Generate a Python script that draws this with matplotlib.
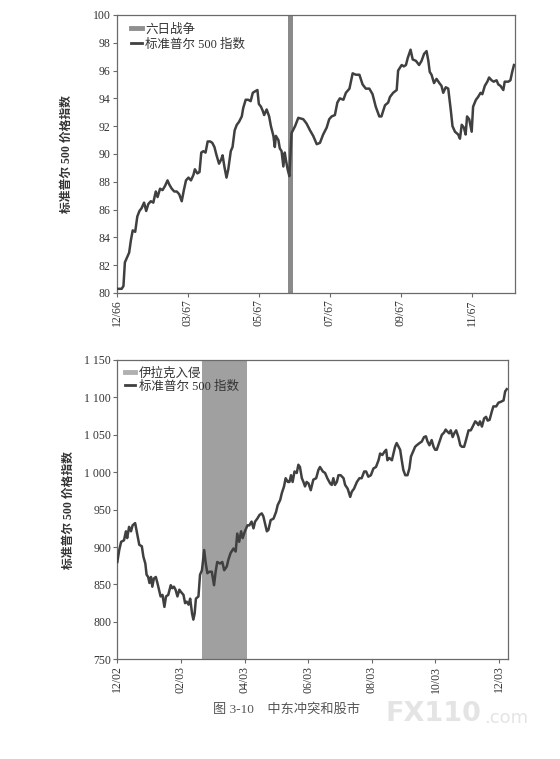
import matplotlib
matplotlib.use("Agg")
import matplotlib.pyplot as plt
from matplotlib.lines import Line2D

plt.rcParams['font.family'] = ['Liberation Serif', 'Noto Sans CJK SC', 'DejaVu Sans']

# ---------------- data: 1967 (Six-Day War) ----------------
top_x = [0.00, 0.14, 0.19, 0.23, 0.28, 0.35, 0.40, 0.45, 0.52, 0.58, 0.64, 0.70, 0.77, 0.83, 0.89, 0.96,
         1.03, 1.10, 1.15, 1.22, 1.29, 1.36, 1.43, 1.48, 1.55, 1.62, 1.69, 1.76, 1.83, 1.89, 1.95,
         2.02, 2.09, 2.16, 2.20, 2.27, 2.33, 2.38, 2.44, 2.50, 2.56, 2.63, 2.69, 2.75, 2.81, 2.88, 2.94, 2.98,
         3.03, 3.09, 3.14, 3.21, 3.26, 3.32, 3.38, 3.44, 3.52, 3.56, 3.63, 3.70, 3.77, 3.83, 3.89, 3.96,
         4.00, 4.06, 4.11, 4.15, 4.22, 4.29, 4.34, 4.41, 4.45, 4.48, 4.55, 4.59, 4.64, 4.69, 4.73, 4.76, 4.81, 4.86,
         4.92, 5.02, 5.11, 5.25, 5.34, 5.44, 5.53, 5.63, 5.72, 5.81, 5.91, 5.98,
         6.05, 6.14, 6.21, 6.28, 6.38, 6.45, 6.55, 6.64, 6.73, 6.83, 6.92,
         7.01, 7.11, 7.20, 7.29, 7.39, 7.45, 7.55, 7.64, 7.69, 7.78, 7.88, 7.92,
         8.02, 8.08, 8.14, 8.19, 8.27, 8.33, 8.42, 8.51, 8.58, 8.65, 8.72, 8.77, 8.81, 8.86, 8.93,
         9.00, 9.08, 9.14, 9.19, 9.26, 9.33, 9.40, 9.45, 9.52, 9.61, 9.66, 9.71, 9.77, 9.82, 9.86, 9.92, 9.99,
         10.03, 10.11, 10.17, 10.24, 10.29, 10.36, 10.43, 10.48, 10.55, 10.61, 10.69, 10.74, 10.80, 10.88, 10.92,
         11.02, 11.08, 11.13, 11.18]
top_y = [80.3, 80.3, 80.5, 82.2, 82.5, 82.9, 83.8, 84.5, 84.4, 85.5, 85.9, 86.1, 86.5, 85.9, 86.4, 86.6,
         86.5, 87.3, 86.9, 87.5, 87.4, 87.7, 88.1, 87.8, 87.5, 87.3, 87.3, 87.1, 86.6, 87.4, 88.1,
         88.3, 88.1, 88.5, 88.9, 88.6, 88.7, 90.1, 90.2, 90.1, 90.9, 90.9, 90.8, 90.5, 89.9, 89.3, 89.6, 89.9,
         89.1, 88.3, 88.9, 90.2, 90.5, 91.7, 92.1, 92.3, 92.7, 93.3, 93.9, 93.9, 93.8, 94.4, 94.5, 94.6,
         93.6, 93.4, 93.1, 92.8, 93.2, 92.7, 92.0, 91.3, 90.5, 91.3, 91.0, 90.4, 90.2, 89.1, 90.1, 89.6, 88.9, 88.4,
         91.5, 92.0, 92.6, 92.5, 92.2, 91.7, 91.3, 90.7, 90.8, 91.4, 91.9, 92.5,
         92.7, 92.8, 93.7, 94.0, 93.9, 94.4, 94.7, 95.8, 95.7, 95.7, 95.0,
         94.7, 94.7, 94.3, 93.4, 92.7, 92.7, 93.5, 93.7, 94.1, 94.4, 94.6, 96.0,
         96.4, 96.3, 96.4, 96.9, 97.5, 96.8, 96.7, 96.4, 96.7, 97.2, 97.4, 96.7, 95.9, 95.7, 95.1,
         95.4, 95.1, 94.9, 94.4, 94.8, 94.7, 93.2, 92.0, 91.6, 91.4, 91.1, 92.1, 91.9, 91.4, 92.7, 92.5, 91.6,
         93.4, 93.9, 94.1, 94.4, 94.3, 94.9, 95.2, 95.5, 95.3, 95.2, 95.3, 95.0, 94.9, 94.6, 95.2,
         95.2, 95.3, 95.9, 96.4]
top_ticks = [0, 2, 4, 6, 8, 10]
top_ticklabels = ['12/66', '03/67', '05/67', '07/67', '09/67', '11/67']
top_event = (4.83, 4.97)

# ---------------- data: 2002-2003 (Iraq invasion) ----------------
bot_x = [0.00, 0.06, 0.12, 0.21, 0.27, 0.31, 0.37, 0.43, 0.48, 0.56, 0.63, 0.69, 0.77, 0.82, 0.88, 0.92, 0.97,
         1.01, 1.06, 1.10, 1.15, 1.21, 1.26, 1.31, 1.36, 1.42, 1.48, 1.53, 1.60, 1.68, 1.73, 1.78, 1.83, 1.89, 1.95,
         2.00, 2.08, 2.13, 2.18, 2.24, 2.29, 2.35, 2.39, 2.43, 2.47, 2.55, 2.60, 2.66, 2.73, 2.78, 2.83, 2.89, 2.97,
         3.04, 3.09, 3.14, 3.23, 3.30, 3.36, 3.44, 3.49, 3.56, 3.65, 3.72, 3.77, 3.83, 3.89, 3.94,
         4.01, 4.09, 4.15, 4.22, 4.28, 4.33, 4.40, 4.47, 4.54, 4.59, 4.64, 4.70, 4.75, 4.82, 4.91, 4.99,
         5.04, 5.12, 5.17, 5.24, 5.29, 5.36, 5.41, 5.46, 5.51, 5.57, 5.64, 5.69, 5.74, 5.80, 5.85, 5.90, 5.95,
         6.01, 6.08, 6.16, 6.25, 6.32, 6.37, 6.46, 6.53, 6.60, 6.69, 6.74, 6.79, 6.84, 6.90, 6.95,
         7.02, 7.11, 7.16, 7.24, 7.32, 7.37, 7.44, 7.53, 7.61, 7.68, 7.76, 7.82, 7.89, 7.97,
         8.05, 8.13, 8.21, 8.26, 8.33, 8.39, 8.45, 8.49, 8.55, 8.63, 8.68, 8.73, 8.78, 8.84, 8.89, 8.94, 8.99,
         9.05, 9.12, 9.18, 9.23, 9.29, 9.36, 9.41, 9.50, 9.57, 9.64, 9.70, 9.75, 9.81, 9.88, 9.94, 9.99,
         10.04, 10.13, 10.20, 10.27, 10.32, 10.38, 10.43, 10.48, 10.54, 10.59, 10.65, 10.72, 10.78, 10.83, 10.90, 10.96,
         11.04, 11.11, 11.17, 11.25, 11.30, 11.35, 11.40, 11.46, 11.53, 11.59, 11.64, 11.70, 11.77, 11.82, 11.91, 11.98,
         12.05, 12.14, 12.19, 12.24]
bot_y = [880, 896, 907, 909, 921, 912, 927, 921, 929, 932, 916, 903, 901, 887, 878, 863, 860,
         852, 860, 847, 858, 860, 852, 843, 834, 836, 820, 834, 836, 849, 845, 847, 843, 834, 843,
         840, 836, 825, 827, 823, 831, 811, 803, 811, 831, 834, 863, 869, 896, 878, 865, 867, 867,
         849, 867, 880, 878, 880, 869, 874, 883, 892, 898, 894, 918, 907, 921, 912,
         921, 929, 929, 934, 925, 934, 938, 943, 945, 941, 932, 921, 923, 936, 938, 947,
         956, 963, 972, 981, 992, 987, 987, 996, 987, 1001, 999, 1010, 1007, 992, 987, 981, 987,
         985, 976, 990, 992, 1003, 1007, 1001, 999, 992, 985, 983, 992, 983, 987, 996,
         996, 992, 983, 978, 967, 974, 978, 987, 992, 992, 1001, 1001, 994, 996,
         1005, 1007, 1016, 1025, 1023, 1027, 1030, 1016, 1019, 1016, 1025, 1034, 1039, 1034, 1030, 1016, 1003,
         996, 996, 1005, 1021, 1027, 1034, 1036, 1039, 1041, 1047, 1048, 1041, 1036, 1043, 1034, 1030,
         1030, 1041, 1050, 1053, 1057, 1054, 1052, 1056, 1047, 1052, 1056, 1047, 1036, 1034, 1034, 1043,
         1056, 1056, 1061, 1068, 1066, 1063, 1068, 1061, 1072, 1074, 1069, 1070, 1081, 1088, 1088, 1093,
         1094, 1096, 1108, 1111]
bot_ticks = [0, 2, 4, 6, 8, 10, 12]
bot_ticklabels = ['12/02', '02/03', '04/03', '06/03', '08/03', '10/03', '12/03']
bot_yticks = [750, 800, 850, 900, 950, 1000, 1050, 1100, 1150]
bot_yticklabels = ['750', '800', '850', '900', '950', '1 000', '1 050', '1 100', '1 150']
bot_event = (2.65, 4.07)

ylabel = '标准普尔 500 价格指数'
leg_top = ['六日战争', '标准普尔 500 指数']
leg_bot = ['伊拉克入侵', '标准普尔 500 指数']
caption = '图 3-10    中东冲突和股市'

LINE_C = '#404040'
SPINE_C = '#6a6a6a'
TXT_C = '#333333'
CJK = ['Liberation Serif', 'Noto Sans CJK SC']

fig = plt.figure(figsize=(5.6, 7.59), dpi=100)
ax1 = fig.add_axes([0.2084, 0.6140, 0.7113, 0.3663])
ax2 = fig.add_axes([0.2095, 0.1314, 0.6971, 0.3943])


def style(ax):
    for s in ax.spines.values():
        s.set_color(SPINE_C)
        s.set_linewidth(0.9)
    ax.tick_params(axis='both', direction='out', length=3, width=0.8, color=SPINE_C,
                   labelsize=8.5, labelcolor=TXT_C, pad=1.5)
    ax.tick_params(axis='x', labelrotation=90)
    for lab in ax.get_xticklabels() + ax.get_yticklabels():
        lab.set_family('Liberation Serif')


# top chart
ax1.axvspan(*top_event, color='#8a8a8a', lw=0, zorder=1)
ax1.plot(top_x, top_y, color=LINE_C, lw=1.8, zorder=3)
ax1.set_xlim(0, 11.21)
ax1.set_ylim(80, 100)
ax1.set_yticks(range(80, 101, 2))
ax1.set_xticks(top_ticks)
ax1.set_xticklabels(top_ticklabels)
style(ax1)
ax1.set_ylabel(ylabel, family=['Liberation Serif', 'Noto Sans CJK SC'], fontweight='bold',
               fontsize=8.5, color=TXT_C)
ax1.yaxis.set_label_coords(-0.11, 0.5)
h1 = [Line2D([], [], color='#8f8f8f', lw=3.5), Line2D([], [], color=LINE_C, lw=2)]
lg1 = ax1.legend(h1, leg_top, loc='upper left', frameon=False, handlelength=0.85,
                 handletextpad=0.25, borderaxespad=0.3, labelspacing=0.2,
                 prop={'family': CJK, 'size': 9}, bbox_to_anchor=(0.015, 1.0))
for t in lg1.get_texts():
    t.set_color(TXT_C)

# bottom chart
ax2.axvspan(*bot_event, color='#a0a0a0', lw=0, zorder=1)
ax2.plot(bot_x, bot_y, color=LINE_C, lw=1.8, zorder=3)
ax2.set_xlim(0, 12.27)
ax2.set_ylim(750, 1150)
ax2.set_yticks(bot_yticks)
ax2.set_yticklabels(bot_yticklabels)
ax2.set_xticks(bot_ticks)
ax2.set_xticklabels(bot_ticklabels)
style(ax2)
ax2.set_ylabel(ylabel, family=['Liberation Serif', 'Noto Sans CJK SC'], fontweight='bold',
               fontsize=8.5, color=TXT_C)
ax2.yaxis.set_label_coords(-0.108, 0.5)
h2 = [Line2D([], [], color='#b0b0b0', lw=3.5), Line2D([], [], color=LINE_C, lw=2)]
lg2 = ax2.legend(h2, leg_bot, loc='upper left', frameon=False, handlelength=0.85,
                 handletextpad=0.25, borderaxespad=0.2, labelspacing=0.05,
                 prop={'family': CJK, 'size': 9}, bbox_to_anchor=(0.0, 1.0))
for t in lg2.get_texts():
    t.set_color(TXT_C)

# caption and watermark
fig.text(212.7 / 560, 1 - 709 / 759, caption, family=CJK, fontsize=9.5, color='#555555',
         ha='left', va='center')
fig.text(385 / 560, 1 - 714 / 759, 'FX110', family='DejaVu Sans', fontweight='bold',
         fontsize=19.5, color='#e4e4e4', ha='left', va='center')
fig.text(484 / 560, 1 - 718 / 759, '.com', family='DejaVu Sans', fontsize=13,
         color='#e4e4e4', ha='left', va='center')

fig.savefig('out.png', dpi=100)
